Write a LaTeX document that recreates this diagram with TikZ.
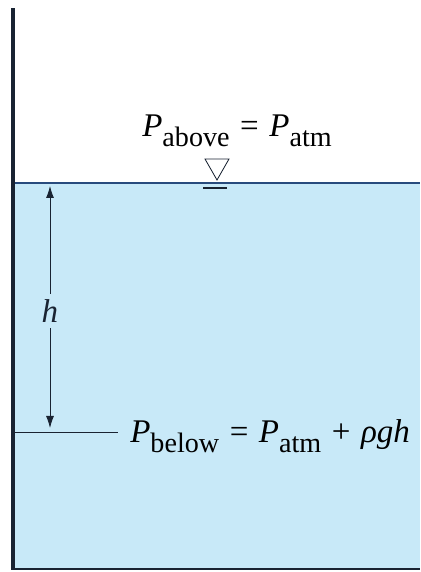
\documentclass[tikz,border=0pt]{standalone}
\usepackage{fontspec}
\setmainfont{Liberation Serif}
\usetikzlibrary{arrows.meta}

\definecolor{water}{RGB}{200,233,248}
\definecolor{surface}{RGB}{40,75,125}
\definecolor{ink}{RGB}{25,35,50}

% italic symbol, lowered subscript, relation gap
\newcommand{\sym}[1]{\textit{#1}}
\newcommand{\subs}[1]{\raisebox{-0.3em}{\fontsize{20}{20}\selectfont #1}}
\newcommand{\gap}{\hspace{0.32em}}

\tikzset{
    lbl/.style={font=\fontsize{23.5}{26}\selectfont, inner sep=0pt},
    dim/.style={<->, >={Latex[length=3mm,width=2mm]}, ink, line width=0.6pt},
}

\begin{document}
\begin{tikzpicture}
    \useasboundingbox (0,0) rectangle (10.5,14.3);

    % Water body
    \fill[water] (0.325,0.075) rectangle (10.5,9.725);
    \draw[ink, line width=0.8pt] (0.325,0.075) -- (10.5,0.075);
    \draw[surface, line width=1.1pt] (0.325,9.725) -- (10.5,9.725);

    % Wall
    \draw[ink, line width=3pt] (0.325,0.05) -- (0.325,14.1);

    % Free surface symbol
    \coordinate (apex) at (5.425,9.8);
    \draw[ink, line width=0.6pt] (apex) -- ++(-0.3,0.525) -- ++(0.6,0) -- cycle;
    \draw[ink, line width=0.8pt] (5.075,9.6) -- (5.675,9.6);

    \node[lbl, anchor=base west] (above) at (3.55,10.875)
        {\sym{P}\subs{above}\gap=\gap\sym{P}\subs{atm}};

    % Depth h
    \coordinate (htop) at (1.25,9.65);
    \coordinate (hbot) at (1.25,3.6);
    \draw[dim] (htop) -- node[lbl, fill=water, inner ysep=4pt, yshift=-0.1cm] (h) {\sym{h}} (hbot);

    % Level at depth h
    \coordinate (wall) at (0.325,3.5);
    \coordinate (tick) at (2.95,3.5);
    \draw[ink, line width=0.6pt] (wall) -- (tick);
    \node[lbl, anchor=base west] (below) at (3.25,3.225)
        {\sym{P}\subs{below}\gap=\gap\sym{P}\subs{atm}\gap+\gap\sym{ρgh}};
\end{tikzpicture}
\end{document}
